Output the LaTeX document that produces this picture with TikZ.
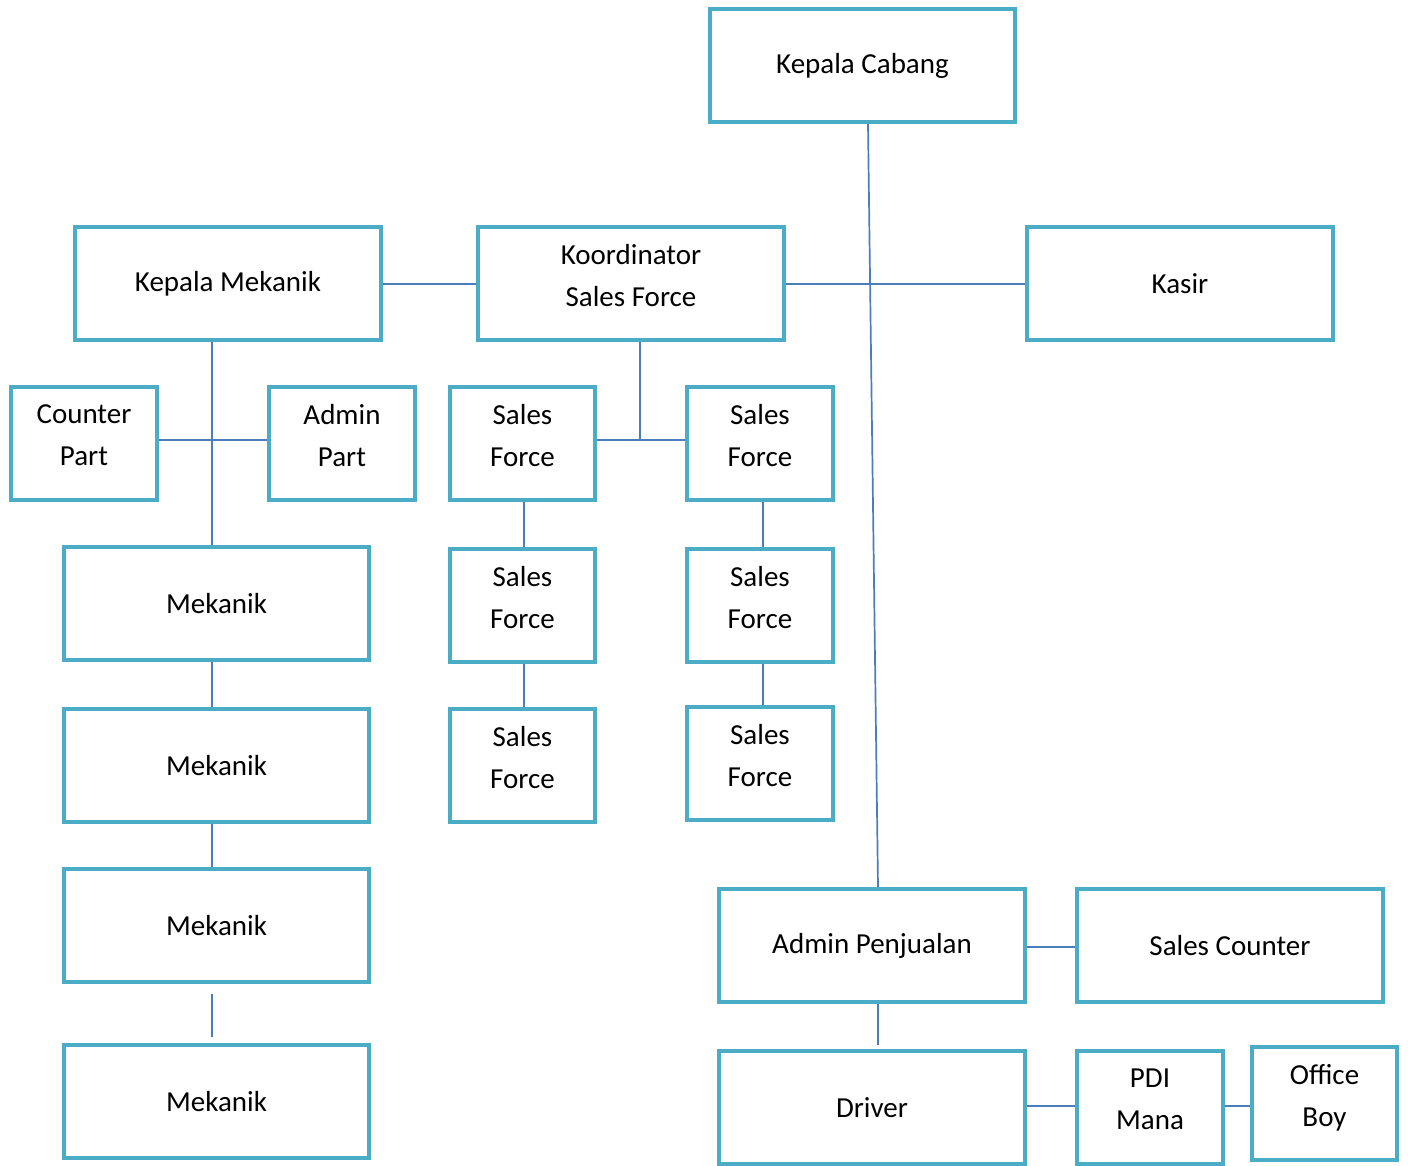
\documentclass[tikz,border=0pt]{standalone}
\usepackage{fontspec}
\setmainfont{Carlito}
\definecolor{boxc}{HTML}{4BACC6}
\definecolor{linec}{HTML}{4A7EBB}
\newcommand{\lowstrut}{\rule[-16pt]{0pt}{16pt}}
\begin{document}
\begin{tikzpicture}[x=1pt,y=-1pt,
  box/.style={draw=boxc,line width=4.2pt,fill=white,align=center,inner sep=0pt,
    font=\fontsize{29}{42}\selectfont},
  big/.style={box,minimum width=306pt,minimum height=113pt},
  small/.style={box,minimum width=146pt,minimum height=113pt},
  conn/.style={draw=linec,line width=1.7pt}]
\useasboundingbox (0,0) rectangle (1408,1166);
% nodes
\node[big,minimum width=305pt] (kc) at (862.5,65.5) {Kepala Cabang};
\node[big] (km) at (228,283.5) {Kepala Mekanik};
\node[big] (ko) at (631,283.5) {Koordinator\\Sales Force\lowstrut};
\node[big] (ka) at (1180,283.5) {Kasir};
\node[small] (cp) at (84,443.5) {Counter\\Part\lowstrut};
\node[small] (ap) at (342,443.5) {Admin\\Part\lowstrut};
\node[small,minimum width=145pt] (sf1) at (522.5,443.5) {Sales\\Force\lowstrut};
\node[small] (sf2) at (760,443.5) {Sales\\Force\lowstrut};
\node[small,minimum width=145pt] (sf3) at (522.5,605.5) {Sales\\Force\lowstrut};
\node[small] (sf4) at (760,605.5) {Sales\\Force\lowstrut};
\node[small,minimum width=145pt] (sf5) at (522.5,765.5) {Sales\\Force\lowstrut};
\node[small] (sf6) at (760,763.5) {Sales\\Force\lowstrut};
\node[big,minimum width=305pt] (m1) at (216.5,603.5) {Mekanik};
\node[big,minimum width=305pt] (m2) at (216.5,765.5) {Mekanik};
\node[big,minimum width=305pt] (m3) at (216.5,925.5) {Mekanik};
\node[big,minimum width=305pt] (m4) at (216.5,1101.5) {Mekanik};
\node[big] (apj) at (872,945.5) {Admin Penjualan};
\node[big] (sc) at (1230,945.5) {Sales Counter};
\node[big] (dr) at (872,1107.5) {Driver};
\node[small] (pdi) at (1150,1107.5) {PDI\\Mana\lowstrut};
\node[small,minimum width=145pt] (ob) at (1324.5,1103.5) {Office\\Boy\lowstrut};
% connectors
\draw[conn] ([xshift=5.5pt]kc.south) -- ([xshift=6pt]apj.north);
\draw[conn] ([yshift=-0.5pt]km.east) -- ([yshift=-0.5pt]ko.west);
\draw[conn] ([yshift=-0.5pt]ko.east) -- ([yshift=-0.5pt]ka.west);
\draw[conn] ([xshift=-16pt]km.south) -- ([xshift=-4.5pt]m1.north);
\draw[conn] ([yshift=3.5pt]cp.east) -- ([yshift=3.5pt]ap.west);
\coordinate (kj) at (640,440);
\draw[conn] ([xshift=9pt]ko.south) -- (kj);
\draw[conn] ([yshift=3.5pt]sf1.east) -- ([yshift=3.5pt]sf2.west);
\draw[conn] ([xshift=1.5pt]sf1.south) -- ([xshift=1.5pt]sf3.north);
\draw[conn] ([xshift=3pt]sf2.south) -- ([xshift=3pt]sf4.north);
\draw[conn] ([xshift=1.5pt]sf3.south) -- ([xshift=1.5pt]sf5.north);
\draw[conn] ([xshift=3pt]sf4.south) -- ([xshift=3pt]sf6.north);
\draw[conn] ([xshift=-4.5pt]m1.south) -- ([xshift=-4.5pt]m2.north);
\draw[conn] ([xshift=-4.5pt]m2.south) -- ([xshift=-4.5pt]m3.north);
\draw[conn] ([xshift=-4.5pt,yshift=-10pt]m3.south) -- ([xshift=-4.5pt,yshift=6pt]m4.north);
\draw[conn] ([yshift=-1.5pt]apj.east) -- ([yshift=-1.5pt]sc.west);
\draw[conn] ([xshift=6pt]apj.south) -- ([xshift=6pt,yshift=4pt]dr.north);
\draw[conn] ([yshift=1.5pt]dr.east) -- ([yshift=1.5pt]pdi.west);
\draw[conn] ([yshift=1.5pt]pdi.east) -- ([yshift=1.5pt]pdi.east -| ob.west);
\end{tikzpicture}
\end{document}
